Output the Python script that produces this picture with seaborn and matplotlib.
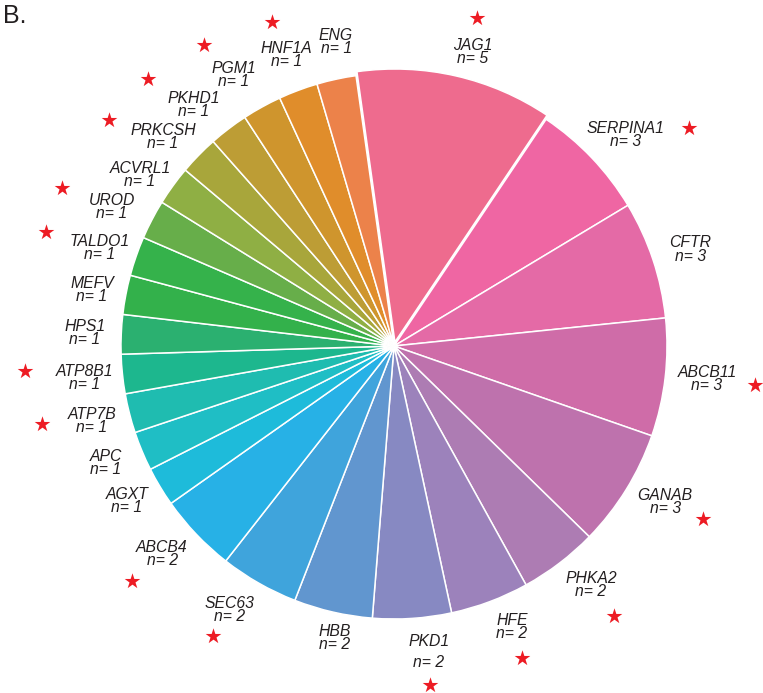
# Gene pie chart (panel B)

import numpy as np
import pandas as pd
import seaborn as sns
import matplotlib.pyplot as plt

# data, read clockwise from the top
genes = ['JAG1', 'SERPINA1', 'CFTR', 'ABCB11', 'GANAB', 'PHKA2', 'HFE', 'PKD1',
         'HBB', 'SEC63', 'ABCB4', 'AGXT', 'APC', 'ATP7B', 'ATP8B1', 'HPS1', 'MEFV',
         'TALDO1', 'UROD', 'ACVRL1', 'PRKCSH', 'PKHD1', 'PGM1', 'HNF1A', 'ENG']
counts = [5, 3, 3, 3, 3, 2, 2, 2, 2, 2, 2, 1, 1, 1, 1, 1, 1, 1, 1, 1, 1, 1, 1, 1, 1]
starred = [1, 1, 0, 1, 1, 1, 1, 1, 0, 1, 1, 0, 0, 1, 1, 0, 0, 1, 1, 0, 1, 1, 1, 1, 0]

# slice colours
colors = ['#EE6B8E', '#EF66A3', '#E46AA6', '#CF6CA8', '#BE72AD', '#AD7CB3', '#9C82BB',
          '#8789C2', '#6196CF', '#3FA4DC', '#27B1E6', '#1EBBDA', '#1FBEC5', '#1FBCB0',
          '#1DB78E', '#2BB070', '#33B14B', '#35B24B', '#67AE4A', '#8FAF44', '#A8A63B',
          '#BD9D35', '#CF952D', '#E08D2B', '#EC824A']

start = 98.0

# label placement: radius (pie radius = 1) and angle nudge in degrees
label_r = [1.115, 1.146, 1.141, 1.153, 1.145, 1.134, 1.116, 1.128, 1.091, 1.140,
           1.141, 1.131, 1.139, 1.140, 1.138, 1.133, 1.125, 1.135, 1.152, 1.122,
           1.141, 1.147, 1.153, 1.136, 1.134]
label_nudge = [-1.6, -0.7, 0.1, 1.1, 2.4, 2.7, 2.7, 3.2, 2.0, -1.8, -1.2, -0.4, 0.0,
               0.1, 0.5, 0.6, 0.9, 1.3, 1.9, 2.5, 2.7, 2.9, 2.2, 0.2, -0.9]
line_gap = [1.45 if g == 'PKD1' else 0.85 for g in genes]

# star placement
star_r = [1.24, 1.344, np.nan, 1.33, 1.297, 1.276, 1.235, 1.249, np.nan, 1.252, 1.289,
          np.nan, np.nan, 1.32, 1.355, np.nan, np.nan, 1.341, 1.347, np.nan, 1.332,
          1.33, 1.304, 1.268, np.nan]
star_nudge = [-0.8, -6.6, 0, 0.95, 3.1, 2.4, 2.2, 2.8, 0, -1.8, -1.2, 0, 0, -1.3, -1.5,
              0, 0, 1.6, 2.7, 0, 6.4, 5.9, 3.9, 0.6, 0]

df = pd.DataFrame({'gene': genes, 'n': counts, 'star': starred})

sns.set_style('white')
plt.rcParams['font.family'] = ['Liberation Sans', 'DejaVu Sans']

fig = plt.figure(figsize=(7.63, 6.93), dpi=100)
ax = fig.add_axes([0, 0, 1, 1])

explode = [0.015 if g == 'JAG1' else 0 for g in genes]
wedges, _ = ax.pie(df['n'], colors=sns.color_palette(colors), startangle=start,
                   counterclock=False, explode=explode,
                   wedgeprops=dict(edgecolor='white', linewidth=1.1))

# offsets above were read against a start of 97.5 degrees
mids = np.array([(w.theta1 + w.theta2) / 2 for w in wedges]) - (start - 97.5)

for i, row in df.iterrows():
    a = np.deg2rad(mids[i] + label_nudge[i])
    ax.text(label_r[i] * np.cos(a), label_r[i] * np.sin(a), f"{row['gene']}\nn= {row['n']}",
            ha='center', va='center', style='italic', fontsize=11.3,
            linespacing=line_gap[i], color='#231F20')

sa = np.deg2rad(mids + np.array(star_nudge))
sr = np.array(star_r)
keep = df['star'].values == 1
sns.scatterplot(x=(sr * np.cos(sa))[keep], y=(sr * np.sin(sa))[keep], marker='*',
                s=140, color='#ED1C24', linewidth=0, ax=ax, legend=False)

ax.set_xlim(-394 / 273, (763 - 394) / 273)
ax.set_ylim(-(693 - 346) / 273, 346 / 273)
ax.set_aspect('auto')
ax.axis('off')

fig.text(0.004, 1 - 23 / 693, 'B.', fontsize=18, va='baseline', ha='left', color='#231F20')

fig.savefig('out.png', dpi=100)
